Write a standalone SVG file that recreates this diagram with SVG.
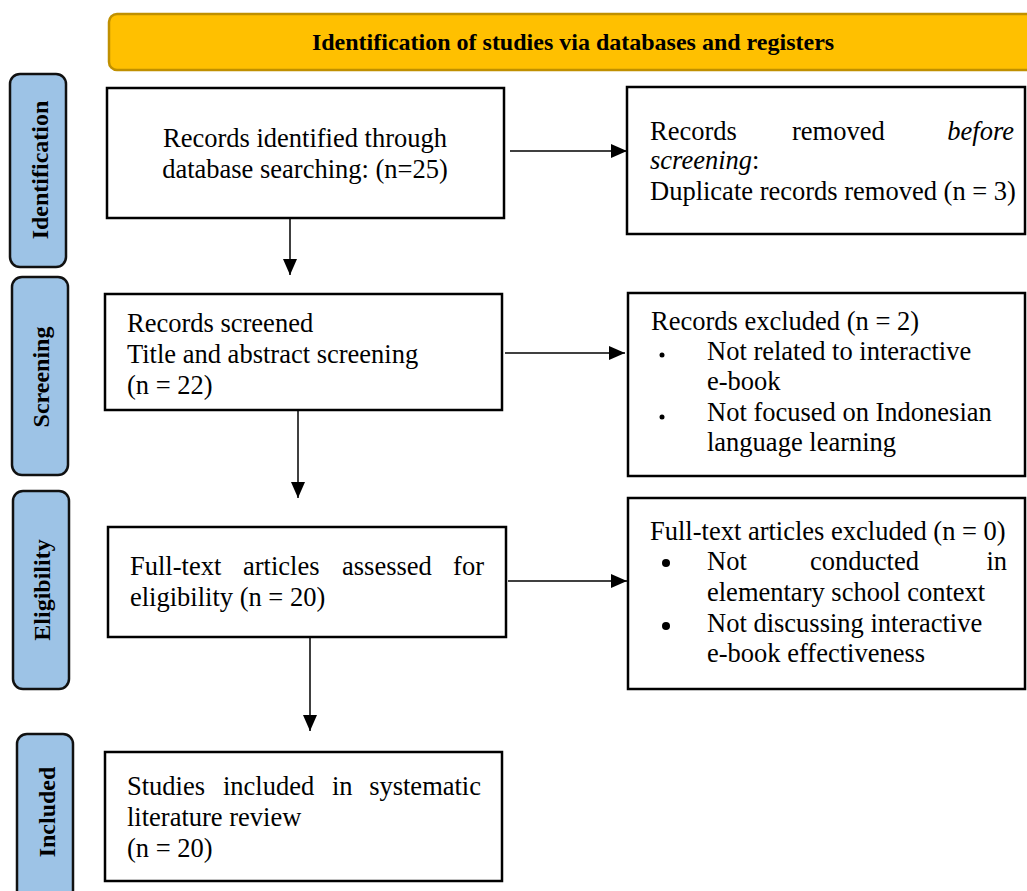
<svg xmlns="http://www.w3.org/2000/svg" width="1027" height="891" viewBox="0 0 1027 891">
<defs>
<style>
.box{fill:#fff;stroke:#000;stroke-width:2.5}
.side{fill:#9DC3E6;stroke:#111;stroke-width:2.5}
.t{font-family:"Liberation Serif","Times New Roman",serif;font-size:26.5px;fill:#000}
.sl{font-family:"Liberation Serif","Times New Roman",serif;font-size:24px;font-weight:bold;fill:#000;text-anchor:middle}
.line{stroke:#000;stroke-width:1.5;fill:none}
</style>
<marker id="ahd" viewBox="0 0 16 14" refX="16" refY="7" markerWidth="16" markerHeight="14" markerUnits="userSpaceOnUse" orient="auto">
<path d="M0,0 L16,7 L0,14 Z" fill="#000"/>
</marker>
</defs>
<rect width="1027" height="891" fill="#fff"/>

<g id="header">
<rect x="109" y="14" width="930" height="56" rx="8" fill="#FFC000" stroke="#C09000" stroke-width="2.5"/>
<text x="573" y="50" font-family="Liberation Serif, Times New Roman, serif" font-size="24" font-weight="bold" text-anchor="middle">Identification of studies via databases and registers</text>
</g>

<g id="side-identification">
<rect class="side" x="10" y="74" width="56" height="193" rx="10"/>
<text class="sl" transform="translate(48,170) rotate(-90)">Identification</text>
</g>
<g id="side-screening">
<rect class="side" x="12" y="277" width="56" height="198" rx="10"/>
<text class="sl" transform="translate(49,377) rotate(-90)">Screening</text>
</g>
<g id="side-eligibility">
<rect class="side" x="13" y="491" width="56" height="198" rx="10"/>
<text class="sl" transform="translate(50,590) rotate(-90)">Eligibility</text>
</g>
<g id="side-included">
<rect class="side" x="17" y="734" width="56" height="170" rx="10"/>
<text class="sl" transform="translate(55,812) rotate(-90)">Included</text>
</g>

<g id="n-identified">
<rect class="box" x="107" y="88" width="397" height="130"/>
<text class="t" text-anchor="middle"><tspan x="305" y="147">Records identified through</tspan><tspan x="305" y="178">database searching: (n=25)</tspan></text>
</g>

<g id="n-removed">
<rect class="box" x="627" y="87" width="398" height="147"/>
<text class="t"><tspan x="650" y="140">Records</tspan><tspan x="792" y="140">removed</tspan><tspan x="1014" y="140" text-anchor="end" font-style="italic">before</tspan><tspan x="650" y="169" font-style="italic">screening</tspan><tspan>:</tspan><tspan x="650" y="200">Duplicate records removed (n = 3)</tspan></text>
</g>

<g id="n-screened">
<rect class="box" x="105" y="294" width="397" height="116"/>
<text class="t"><tspan x="127" y="332">Records screened</tspan><tspan x="127" y="363">Title and abstract screening</tspan><tspan x="127" y="394">(n = 22)</tspan></text>
</g>

<g id="n-excluded">
<rect class="box" x="628" y="293" width="397" height="183"/>
<text class="t"><tspan x="651" y="330">Records excluded (n = 2)</tspan><tspan x="707" y="360">Not related to interactive</tspan><tspan x="707" y="390">e-book</tspan><tspan x="707" y="421">Not focused on Indonesian</tspan><tspan x="707" y="451">language learning</tspan></text>
<circle cx="662" cy="355" r="2.5" fill="#000"/>
<circle cx="662" cy="417" r="2.5" fill="#000"/>
</g>

<g id="n-fulltext">
<rect class="box" x="108" y="527" width="398" height="110"/>
<text class="t"><tspan x="130" y="575">Full-text</tspan><tspan x="243" y="575">articles</tspan><tspan x="342" y="575">assessed</tspan><tspan x="484" y="575" text-anchor="end">for</tspan><tspan x="130" y="606">eligibility (n = 20)</tspan></text>
</g>

<g id="n-ft-excluded">
<rect class="box" x="628" y="498" width="397" height="191"/>
<text class="t"><tspan x="650" y="540">Full-text articles excluded (n = 0)</tspan><tspan x="707" y="570">Not</tspan><tspan x="810" y="570">conducted</tspan><tspan x="1007" y="570" text-anchor="end">in</tspan><tspan x="707" y="601">elementary school context</tspan><tspan x="707" y="632">Not discussing interactive</tspan><tspan x="707" y="662">e-book effectiveness</tspan></text>
<circle cx="666" cy="563" r="4" fill="#000"/>
<circle cx="666" cy="626" r="4" fill="#000"/>
</g>

<g id="n-included">
<rect class="box" x="105" y="752" width="397" height="129"/>
<text class="t"><tspan x="127" y="795">Studies</tspan><tspan x="223" y="795">included</tspan><tspan x="332" y="795">in</tspan><tspan x="481" y="795" text-anchor="end">systematic</tspan><tspan x="127" y="826">literature review</tspan><tspan x="127" y="857">(n = 20)</tspan></text>
</g>

<g id="connectors">
<line class="line" x1="510" y1="151" x2="627" y2="151" marker-end="url(#ahd)"/>
<line class="line" x1="290" y1="218" x2="290" y2="275" marker-end="url(#ahd)"/>
<line class="line" x1="505" y1="353" x2="625" y2="353" marker-end="url(#ahd)"/>
<line class="line" x1="298" y1="410" x2="298" y2="498" marker-end="url(#ahd)"/>
<line class="line" x1="508" y1="581" x2="627" y2="581" marker-end="url(#ahd)"/>
<line class="line" x1="310" y1="637" x2="310" y2="731" marker-end="url(#ahd)"/>
</g>
</svg>
